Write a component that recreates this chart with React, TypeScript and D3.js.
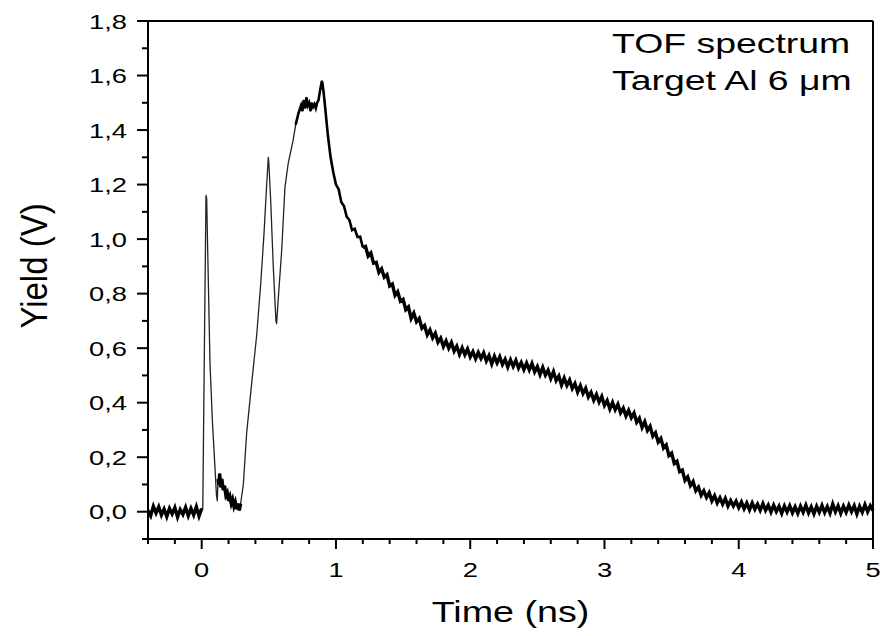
import React from "react";
import * as d3 from "d3";

// ---- data ----
const TIME_NS: number[] = [
  -0.40, -0.38, -0.36, -0.34, -0.32, -0.30, -0.28, -0.26, -0.24, -0.22, -0.20,
  -0.18, -0.16, -0.14, -0.12, -0.10, -0.08, -0.06, -0.04, -0.02, 0.00,
  0.008, 0.020, 0.032, 0.037, 0.045, 0.062, 0.080, 0.099, 0.110, 0.116, 0.122,
  0.128, 0.134, 0.140, 0.150, 0.160, 0.170, 0.180, 0.190, 0.200, 0.210, 0.220,
  0.230, 0.240, 0.250, 0.260, 0.270, 0.280, 0.290, 0.310, 0.335, 0.372, 0.410,
  0.440, 0.464, 0.484, 0.496, 0.500, 0.514, 0.533, 0.553, 0.558, 0.570, 0.596,
  0.620, 0.645, 0.680, 0.700, 0.720, 0.740, 0.750, 0.760, 0.770, 0.780, 0.790,
  0.800, 0.810, 0.820, 0.830, 0.840, 0.850, 0.860, 0.870, 0.880, 0.895, 0.900,
  0.910, 0.920, 0.940, 0.960, 0.980, 1.000,
  1.02, 1.04, 1.06, 1.08, 1.10, 1.12, 1.14, 1.16, 1.18, 1.20,
  1.22, 1.24, 1.26, 1.28, 1.30, 1.32, 1.34, 1.36, 1.38, 1.40,
  1.42, 1.44, 1.46, 1.48, 1.50, 1.52, 1.54, 1.56, 1.58, 1.60,
  1.62, 1.64, 1.66, 1.68, 1.70, 1.72, 1.74, 1.76, 1.78, 1.80,
  1.82, 1.84, 1.86, 1.88, 1.90, 1.92, 1.94, 1.96, 1.98, 2.00,
  2.02, 2.04, 2.06, 2.08, 2.10, 2.12, 2.14, 2.16, 2.18, 2.20,
  2.22, 2.24, 2.26, 2.28, 2.30, 2.32, 2.34, 2.36, 2.38, 2.40,
  2.42, 2.44, 2.46, 2.48, 2.50, 2.52, 2.54, 2.56, 2.58, 2.60,
  2.62, 2.64, 2.66, 2.68, 2.70, 2.72, 2.74, 2.76, 2.78, 2.80,
  2.82, 2.84, 2.86, 2.88, 2.90, 2.92, 2.94, 2.96, 2.98, 3.00,
  3.02, 3.04, 3.06, 3.08, 3.10, 3.12, 3.14, 3.16, 3.18, 3.20,
  3.22, 3.24, 3.26, 3.28, 3.30, 3.32, 3.34, 3.36, 3.38, 3.40,
  3.42, 3.44, 3.46, 3.48, 3.50, 3.52, 3.54, 3.56, 3.58, 3.60,
  3.62, 3.64, 3.66, 3.68, 3.70, 3.72, 3.74, 3.76, 3.78, 3.80,
  3.82, 3.84, 3.86, 3.88, 3.90, 3.92, 3.94, 3.96, 3.98, 4.00,
  4.02, 4.04, 4.06, 4.08, 4.10, 4.12, 4.14, 4.16, 4.18, 4.20,
  4.22, 4.24, 4.26, 4.28, 4.30, 4.32, 4.34, 4.36, 4.38, 4.40,
  4.42, 4.44, 4.46, 4.48, 4.50, 4.52, 4.54, 4.56, 4.58, 4.60,
  4.62, 4.64, 4.66, 4.68, 4.70, 4.72, 4.74, 4.76, 4.78, 4.80,
  4.82, 4.84, 4.86, 4.88, 4.90, 4.92, 4.94, 4.96, 4.98, 5.00,
];

const YIELD_V: number[] = [
  0.005, -0.015, 0.020, -0.005, 0.018, -0.012, 0.010, -0.018, 0.012, -0.008, 0.015,
  -0.020, 0.008, -0.010, 0.016, -0.015, 0.012, -0.012, 0.018, -0.016, 0.012,
  0.010, 0.600, 1.160, 1.150, 0.950, 0.540, 0.330, 0.160, 0.060, 0.040, 0.120,
  0.100, 0.140, 0.090, 0.120, 0.080, 0.095, 0.060, 0.070, 0.040, 0.055, 0.030,
  0.045, 0.020, 0.035, 0.010, 0.030, 0.005, 0.030, 0.100, 0.290, 0.470, 0.650,
  0.840, 1.020, 1.200, 1.300, 1.280, 1.140, 0.900, 0.700, 0.690, 0.780, 0.960,
  1.190, 1.280, 1.360, 1.420, 1.460, 1.490, 1.470, 1.510, 1.480, 1.520, 1.490,
  1.500, 1.470, 1.500, 1.485, 1.495, 1.480, 1.500, 1.510, 1.540, 1.580, 1.570,
  1.530, 1.480, 1.380, 1.300, 1.245, 1.200,
  1.183, 1.135, 1.121, 1.082, 1.070, 1.033, 1.038, 1.008, 1.009, 0.970,
  0.973, 0.938, 0.949, 0.912, 0.915, 0.878, 0.891, 0.860, 0.869, 0.828,
  0.835, 0.794, 0.807, 0.772, 0.779, 0.741, 0.751, 0.709, 0.729, 0.697,
  0.709, 0.673, 0.683, 0.649, 0.667, 0.638, 0.655, 0.622, 0.637, 0.606,
  0.627, 0.600, 0.621, 0.589, 0.607, 0.577, 0.601, 0.576, 0.597, 0.568,
  0.587, 0.561, 0.584, 0.562, 0.583, 0.553, 0.573, 0.542, 0.570, 0.546,
  0.568, 0.540, 0.559, 0.531, 0.557, 0.533, 0.555, 0.527, 0.547, 0.521,
  0.545, 0.520, 0.544, 0.513, 0.532, 0.503, 0.529, 0.501, 0.519, 0.489,
  0.514, 0.481, 0.498, 0.465, 0.490, 0.463, 0.483, 0.452, 0.470, 0.439,
  0.462, 0.434, 0.453, 0.421, 0.438, 0.409, 0.430, 0.402, 0.423, 0.390,
  0.408, 0.377, 0.401, 0.374, 0.394, 0.363, 0.380, 0.351, 0.372, 0.345,
  0.362, 0.328, 0.343, 0.309, 0.330, 0.298, 0.313, 0.277, 0.290, 0.256,
  0.269, 0.234, 0.245, 0.206, 0.215, 0.177, 0.185, 0.147, 0.153, 0.115,
  0.128, 0.096, 0.111, 0.077, 0.090, 0.060, 0.077, 0.053, 0.070, 0.040,
  0.059, 0.032, 0.051, 0.028, 0.049, 0.021, 0.041, 0.021, 0.039, 0.015,
  0.036, 0.011, 0.032, 0.007, 0.032, 0.009, 0.028, 0.005, 0.030, 0.005,
  0.024, -0.001, 0.024, 0.001, 0.020, -0.006, 0.021, -0.001, 0.022, -0.004,
  0.018, -0.006, 0.020, -0.002, 0.024, -0.004, 0.018, -0.008, 0.020, -0.002,
  0.023, -0.003, 0.019, -0.005, 0.028, 0.000, 0.022, -0.006, 0.020, -0.002,
  0.024, 0.000, 0.022, -0.008, 0.020, -0.002, 0.026, 0.000, 0.022, 0.004,
];

const X_TICKS: number[] = [0, 1, 2, 3, 4, 5];
const Y_TICKS: number[] = [0, 0.2, 0.4, 0.6, 0.8, 1.0, 1.2, 1.4, 1.6, 1.8];
const X_LABEL = "Time (ns)";
const Y_LABEL = "Yield (V)";
const NOTE_LINES: string[] = ["TOF spectrum", "Target Al 6 \u03bcm"];

// ---- layout ----
const W = 880;
const H = 636;
const M = { left: 148, right: 7, top: 21, bottom: 97 };
const FONT = "'Liberation Sans', Arial, Helvetica, sans-serif";
const STRETCH = 1.3;

export default function App() {
  const x = d3.scaleLinear().domain([-0.4, 5]).range([M.left, W - M.right]);
  const y = d3.scaleLinear().domain([-0.1, 1.8]).range([H - M.bottom, M.top]);

  const pts: [number, number][] = TIME_NS.map((t, i) => [t, YIELD_V[i]]);
  const line = d3
    .line<[number, number]>()
    .x((d) => x(d[0]))
    .y((d) => y(d[1]));

  // noisy stretches of the trace (drawn heavier, as the noise band looks in the reference)
  const noisyA = pts.filter((d) => d[0] <= 0.0);
  const noisyB = pts.filter((d) => d[0] >= 0.12 && d[0] <= 0.29);
  const noisyC = pts.filter((d) => d[0] >= 0.7 && d[0] <= 1.2);
  const noisyD = pts.filter((d) => d[0] >= 1.2);

  const xMinor = d3.range(-0.4, 5.0001, 0.2).filter((v) => Math.abs(v - Math.round(v)) > 1e-6);
  const yMinor = d3.range(-0.1, 1.8001, 0.2);

  const x0 = M.left;
  const x1 = W - M.right;
  const y0 = H - M.bottom;
  const y1 = M.top;
  const fmt = (v: number) => v.toFixed(1).replace(".", ",");

  return (
    <svg
      width={W}
      height={H}
      style={{ position: "absolute", left: 0, top: 0, background: "#fff" }}
      fontFamily={FONT}
    >
      <rect x={0} y={0} width={W} height={H} fill="#fff" />
      <path d={line(pts) ?? ""} fill="none" stroke="#222" strokeWidth={1.3} strokeLinejoin="round" />
      {[noisyA, noisyB, noisyC, noisyD].map((seg, i) => (
        <path
          key={"n" + i}
          d={line(seg) ?? ""}
          fill="none"
          stroke="#000"
          strokeWidth={i === 2 ? 2.6 : 3.4}
          strokeLinejoin="miter"
        />
      ))}

      {/* frame */}
      <line x1={x0 - 11} x2={x1} y1={y1} y2={y1} stroke="#000" strokeWidth={2} />
      <line x1={x1} x2={x1} y1={y1} y2={y0} stroke="#000" strokeWidth={2} />
      <line x1={x0} x2={x0} y1={y1} y2={y0 + 1} stroke="#000" strokeWidth={2} />
      <line x1={x0 - 1} x2={x1 + 1} y1={y0} y2={y0} stroke="#000" strokeWidth={2} />

      {/* y ticks */}
      {Y_TICKS.map((v) => (
        <g key={"yt" + v}>
          <line x1={x0 - 11} x2={x0} y1={y(v)} y2={y(v)} stroke="#000" strokeWidth={2} />
          <text
            transform={`translate(${x0 - 21},${y(v) + 7.5}) scale(${STRETCH},1)`}
            textAnchor="end"
            fontSize={21}
            fill="#000"
          >
            {fmt(v)}
          </text>
        </g>
      ))}
      {yMinor.map((v) => (
        <line key={"ym" + v} x1={x0 - 6} x2={x0} y1={y(v)} y2={y(v)} stroke="#000" strokeWidth={2} />
      ))}

      {/* x ticks */}
      {X_TICKS.map((v) => (
        <g key={"xt" + v}>
          <line x1={x(v)} x2={x(v)} y1={y0} y2={y0 + 10} stroke="#000" strokeWidth={2} />
          <text
            transform={`translate(${x(v)},${y0 + 38}) scale(${STRETCH},1)`}
            textAnchor="middle"
            fontSize={21}
            fill="#000"
          >
            {v}
          </text>
        </g>
      ))}
      {xMinor.map((v) => (
        <line key={"xm" + v} x1={x(v)} x2={x(v)} y1={y0} y2={y0 + 5} stroke="#000" strokeWidth={2} />
      ))}

      {/* axis titles */}
      <text
        transform={`translate(${(x0 + x1) / 2},${y0 + 83}) scale(${STRETCH},1)`}
        textAnchor="middle"
        fontSize={29}
        fill="#000"
      >
        {X_LABEL}
      </text>
      <text
        transform={`translate(${47},${266}) scale(1.12,1) rotate(-90)`}
        textAnchor="middle"
        fontSize={33}
        fill="#000"
      >
        {Y_LABEL}
      </text>

      {/* annotation */}
      {NOTE_LINES.map((s, i) => (
        <text
          key={s}
          transform={`translate(${612},${53 + i * 37}) scale(1.36,1)`}
          textAnchor="start"
          fontSize={27.5}
          fill="#000"
        >
          {s}
        </text>
      ))}
    </svg>
  );
}
